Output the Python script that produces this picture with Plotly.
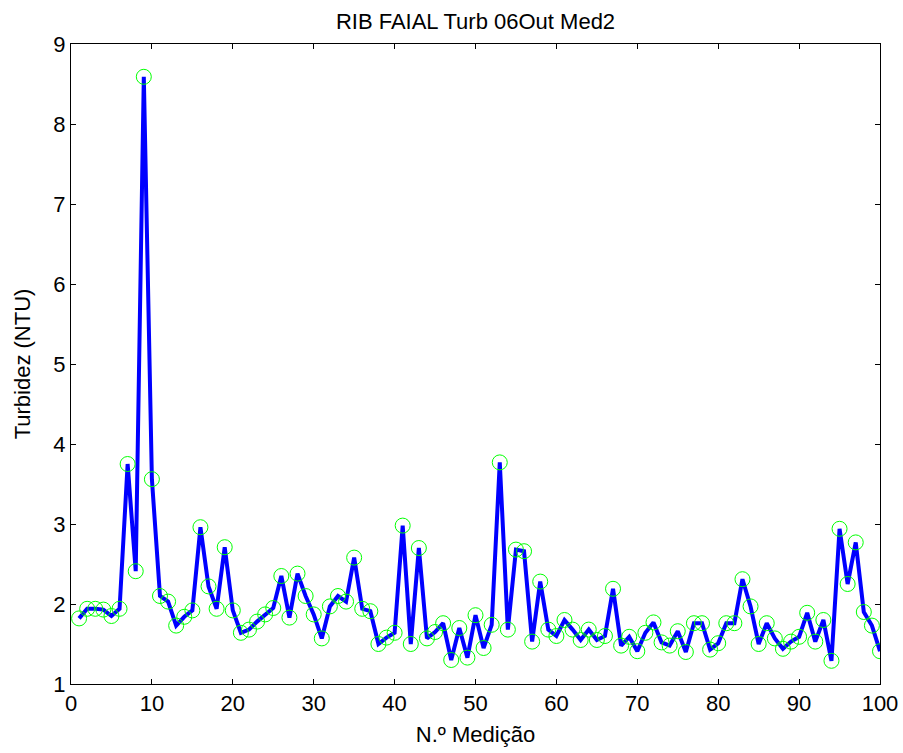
import plotly.graph_objects as go

n_medicao = list(range(1, 101))
turbidez = [
    1.82, 1.94, 1.94, 1.93, 1.85, 1.94, 3.75, 2.41, 8.59, 3.56,
    2.10, 2.03, 1.73, 1.84, 1.92, 2.96, 2.22, 1.94, 2.71, 1.92,
    1.64, 1.68, 1.78, 1.87, 1.95, 2.35, 1.83, 2.38, 2.10, 1.87,
    1.57, 1.97, 2.10, 2.03, 2.58, 1.94, 1.91, 1.50, 1.58, 1.64,
    2.98, 1.50, 2.70, 1.57, 1.65, 1.76, 1.30, 1.70, 1.33, 1.86,
    1.45, 1.74, 3.77, 1.68, 2.68, 2.66, 1.53, 2.28, 1.68, 1.60,
    1.80, 1.68, 1.55, 1.68, 1.55, 1.60, 2.19, 1.48, 1.59, 1.41,
    1.64, 1.77, 1.52, 1.48, 1.66, 1.40, 1.76, 1.76, 1.43, 1.51,
    1.76, 1.76, 2.31, 1.97, 1.50, 1.76, 1.57, 1.44, 1.53, 1.59,
    1.89, 1.53, 1.80, 1.29, 2.94, 2.25, 2.77, 1.90, 1.73, 1.41,
]
x_ticks = list(range(0, 101, 10))
y_ticks = list(range(1, 10))

font = "Liberation Sans, Arial, sans-serif"

fig = go.Figure()
fig.add_trace(go.Scatter(
    x=n_medicao, y=turbidez, mode="lines+markers",
    line=dict(color="#0000ff", width=4),
    marker=dict(symbol="circle-open", size=15, color="#00ff00", line=dict(width=1, color="#00ff00")),
    showlegend=False, hoverinfo="skip",
))

axis_common = dict(
    showline=True, linecolor="black", linewidth=1, mirror="ticks",
    ticks="inside", ticklen=5, tickcolor="black", showgrid=False, zeroline=False,
    tickfont=dict(family=font, size=22, color="black"),
)

fig.update_layout(
    width=903, height=753,
    paper_bgcolor="white", plot_bgcolor="white",
    margin=dict(l=71, r=23, t=44, b=69, autoexpand=False),
    title=dict(text="RIB FAIAL Turb 06Out Med2", x=0.5, xanchor="center",
               y=1 - 21 / 753, yanchor="middle", xref="paper",
               font=dict(family=font, size=22, color="black")),
    xaxis=dict(range=[0, 100], tickvals=x_ticks, automargin=False,
               title=dict(text="N.º Medição", font=dict(family=font, size=22, color="black"), standoff=11),
               **axis_common),
    yaxis=dict(range=[1, 9], tickvals=y_ticks, automargin=False,
               title=dict(text="Turbidez (NTU)", font=dict(family=font, size=22, color="black"), standoff=16),
               **axis_common),
)

fig.write_html("out.html")
